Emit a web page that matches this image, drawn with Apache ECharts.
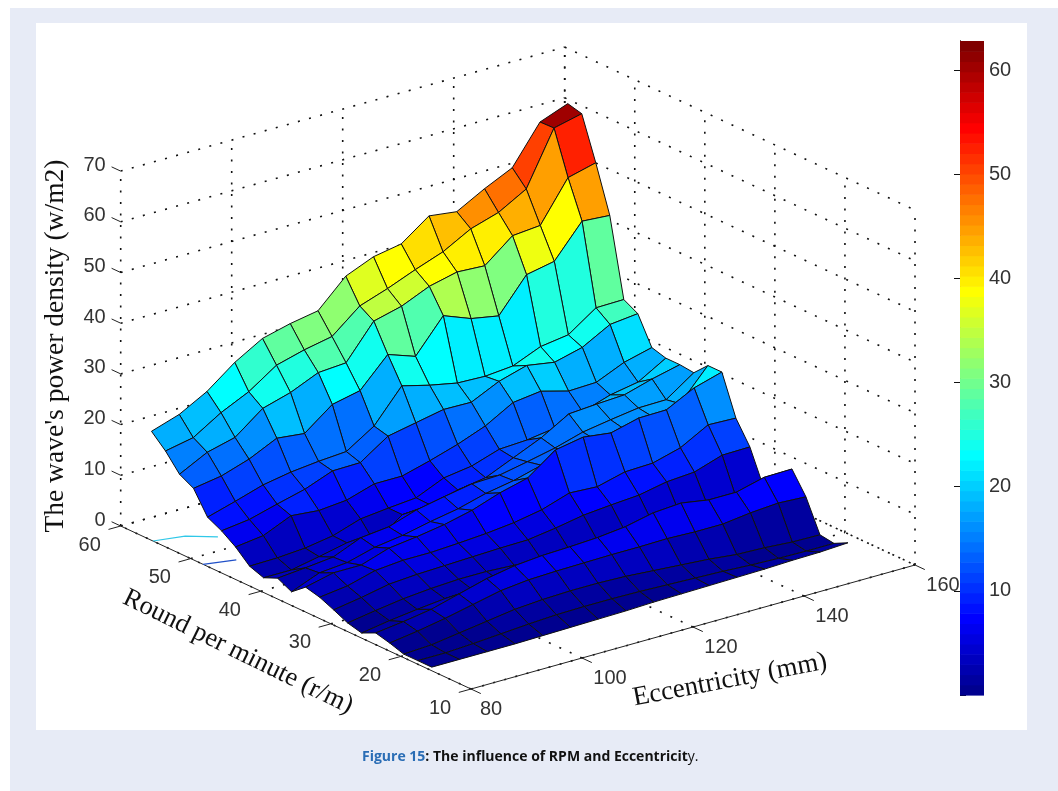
<!DOCTYPE html>
<html><head><meta charset="utf-8">
<style>html,body{margin:0;padding:0;background:#fff}#c{width:1058px;height:791px}</style>
<script src="https://cdn.jsdelivr.net/npm/echarts@6/dist/echarts.min.js"></script>
</head><body><div id="c"></div>
<script>
// ---------- data ----------
const eccentricity = [80.5,85.5,90.5,95.5,100.5,105.5,110.5,115.5,120.5,125.5,130.5,135.5,140.5,145.5,150.5,155.5];
const rpm = [56,54,52,50,48,46,44,42,40,38,36,34,32,30,28,26,24,22,20,18,16];
const power = [
 [21.1,22.9,25.9,30.1,33.3,34.7,35.7,41.0,43.3,44.3,48.3,47.6,50.6,53.2,60.7,62.8],
 [18.5,19.6,23.0,25.6,29.3,30.8,31.9,36.4,38.3,40.5,42.5,45.5,47.2,50.3,60.8,62.1],
 [15.2,18.0,19.4,23.6,25.2,27.6,28.0,34.7,36.1,38.5,39.8,39.5,43.9,44.4,52.3,53.7],
 [13.7,14.6,16.4,19.0,18.4,22.6,23.8,29.4,27.5,34.0,31.9,30.9,37.5,38.6,45.0,44.6],
 [9.3,10.9,12.6,13.6,14.2,14.6,18.1,24.5,23.1,22.0,21.8,22.3,24.6,25.4,29.2,29.3],
 [7.9,8.6,10.1,11.5,13.6,13.7,17.4,18.5,19.6,19.5,22.1,23.7,22.8,24.2,27.2,27.8],
 [6.0,6.7,9.1,8.6,9.1,10.8,10.8,12.3,14.0,16.1,19.2,19.9,18.4,18.6,21.0,22.4],
 [3.5,3.6,4.0,4.9,6.7,7.3,7.8,10.2,11.0,12.8,13.1,13.9,15.6,17.4,18.4,21.6],
 [2.5,2.5,3.6,4.8,3.3,7.3,7.7,9.1,10.0,12.4,14.8,18.0,18.4,18.7,20.3,21.6],
 [3.7,4.2,4.8,7.1,7.7,9.5,10.6,11.6,11.8,12.9,14.1,15.7,16.6,17.4,17.5,21.3],
 [2.3,4.5,5.0,6.5,7.3,8.5,9.5,11.0,12.0,13.5,14.5,15.3,16.0,17.0,18.0,24.0],
 [4.5,5.8,5.8,7.6,8.3,9.2,10.5,12.4,13.8,17.8,18.8,18.1,19.5,19.6,22.4,24.0],
 [3.8,4.5,6.0,6.5,6.5,6.8,7.2,7.8,8.8,10.6,10.3,11.7,11.9,13.4,16.4,16.2],
 [2.6,3.5,4.6,5.0,5.2,5.4,5.6,5.7,6.5,7.5,8.0,8.4,9.5,9.9,11.7,11.8],
 [1.3,2.2,3.0,3.5,3.8,3.8,3.5,3.0,3.4,3.8,4.0,4.0,4.0,4.2,4.6,5.0],
 [0.6,1.5,2.2,2.8,3.0,3.2,3.2,3.2,3.5,3.8,4.0,4.2,4.2,4.4,4.6,5.0],
 [1.9,2.6,3.5,5.0,6.5,7.5,8.0,8.2,8.5,9.1,10.3,10.7,9.8,9.8,11.2,11.3],
 [1.2,2.0,3.0,4.2,5.4,6.0,6.2,6.3,6.4,6.4,6.5,6.3,6.3,7.0,7.4,7.1],
 [0.3,0.6,1.4,2.2,3.0,3.4,3.6,3.6,3.4,3.0,2.6,2.2,1.6,1.4,1.0,0.9],
 [0.3,0.3,0.6,1.0,1.4,1.7,1.8,1.8,1.7,1.5,1.3,1.1,0.8,0.6,0.5,0.5],
 [0.3,0.3,0.3,0.3,0.4,0.5,0.6,0.7,0.9,1.0,1.1,1.2,1.3,1.5,1.6,1.9]
];
const eccTicks = [80,100,120,140,160];
const rpmTicks = [10,20,30,40,50,60];
const zTicks = [0,10,20,30,40,50,60,70];
const cyanContour = [[80,55.4],[84.8,54.6],[88.3,52.7]];
const blueContour = [[80,48.25],[84.8,47.3]];
const zTitle = "The wave's power density (w/m2)";
const rpmTitle = "Round per minute (r/m)";
const eccTitle = "Eccentricity (mm)";
const captionHead = "Figure 15";
const captionTail = ": The influence of RPM and Eccentricit";
const captionEnd = "y.";

// ---------- view of the box ----------
const F = [471,689], dE = [5.55,-1.55], dR = [-7.006,-3.26], dZ = -5.07;
const zMax = 62.8;
function proj(e,r,z){ return [F[0]+dE[0]*(e-80)+dR[0]*(r-10), F[1]+dE[1]*(e-80)+dR[1]*(r-10)+dZ*z]; }
function jet(v){
  let idx = Math.min(63, Math.max(0, Math.floor(v/zMax*64)));
  const f = (idx+1)/64, c = t => Math.round(255*Math.max(0,Math.min(1,1.5-Math.abs(4*f-t))));
  return `rgb(${c(3)},${c(2)},${c(1)})`;
}

// cells painted back to front
const cells = [];
for(let k=0;k<rpm.length-1;k++) for(let i=eccentricity.length-2;i>=0;i--) cells.push([i,k]);

// dotted grid
const gridLines = [];
const eMin=80,eMax=160,rMin=10,rMax=60,zTop=70;
eccTicks.forEach(e=>{ gridLines.push([e,rMax,0,e,rMax,zTop]); gridLines.push([e,rMin,0,e,rMax,0]); });
rpmTicks.forEach(r=>{ gridLines.push([eMax,r,0,eMax,r,zTop]); gridLines.push([eMin,r,0,eMax,r,0]); });
zTicks.forEach(z=>{ gridLines.push([eMin,rMax,z,eMax,rMax,z]); gridLines.push([eMax,rMax,z,eMax,rMin,z]); });

const texts = [];
eccTicks.forEach((e,n)=>{const p=proj(e,rMin,0); texts.push([String(e),p[0]+(n?28:20),p[1]+20,'center']);});
rpmTicks.forEach(r=>{const p=proj(eMin,r,0); texts.push([String(r),p[0]-31,p[1]+19,'center']);});
zTicks.forEach(z=>{const p=proj(eMin,rMax,z); texts.push([String(z),p[0]-15,p[1]-6,'right']);});

const solid = [[eMin,rMin,0,eMin,rMax,0],[eMin,rMin,0,eMax,rMin,0]];
eccTicks.forEach(e=>solid.push([e,rMin,0,e,rMin-1.4,0]));
rpmTicks.forEach(r=>solid.push([eMin,r,0,eMin-2.2,r,0]));
zTicks.forEach(z=>solid.push([eMin,rMax,z,eMin,rMax+1.3,z]));

const chart = echarts.init(document.getElementById('c'),null,{renderer:'canvas'});
function pt(api,p){ return api.coord(p); }
const levels = Array.from({length:64},(_,n)=>n);
chart.setOption({
  animation:false,
  backgroundColor:'#fff',
  tooltip:{show:false},
  graphic:[
    {type:'rect',z:-10,silent:true,shape:{x:10,y:8,width:1048,height:783},style:{fill:'#e7ebf6'}},
    {type:'rect',z:-9,silent:true,shape:{x:36,y:23,width:991,height:707},style:{fill:'#fff'}},
    {type:'text',z:10,x:56,y:346,rotation:Math.PI/2,style:{text:zTitle,font:'27.5px "Liberation Serif"',fill:'#111',align:'center',verticalAlign:'middle'}},
    {type:'text',z:10,x:238,y:652,rotation:-0.455,style:{text:rpmTitle,font:'26.5px "Liberation Serif"',fill:'#111',align:'center',verticalAlign:'middle'}},
    {type:'text',z:10,x:730,y:680,rotation:0.19,style:{text:eccTitle,font:'27px "Liberation Serif"',fill:'#111',align:'center',verticalAlign:'middle'}},
    {type:'text',z:10,x:362,y:757,style:{rich:{a:{font:'bold 14px "Open Sans"',fill:'#2a6db5'},b:{font:'bold 14px "Open Sans"',fill:'#111'},c:{font:'14px "Open Sans"',fill:'#111'}},text:`{a|${captionHead}}{b|${captionTail}}{c|${captionEnd}}`,verticalAlign:'middle'}}
  ],
  grid:[
    {left:0,top:0,width:1058,height:791,show:false},
    {left:960,top:41,width:24,height:654,show:false}
  ],
  xAxis:[
    {gridIndex:0,type:'value',min:0,max:1058,show:false},
    {gridIndex:1,type:'value',min:0,max:1,show:false}
  ],
  yAxis:[
    {gridIndex:0,type:'value',min:0,max:791,inverse:true,show:false},
    {gridIndex:1,type:'value',min:0,max:zMax,interval:10,position:'right',
      axisLine:{show:true,lineStyle:{color:'#111'}},axisTick:{show:true,inside:true,length:6,lineStyle:{color:'#111'}},
      axisLabel:{color:'#333',fontSize:20,fontFamily:'Liberation Sans',margin:5,showMinLabel:false,showMaxLabel:false},splitLine:{show:false}},
    {gridIndex:1,type:'value',min:0,max:zMax,interval:10,position:'left',
      axisLine:{show:true,lineStyle:{color:'#111'}},axisTick:{show:true,inside:true,length:6,lineStyle:{color:'#111'}},
      axisLabel:{show:false},splitLine:{show:false}}
  ],
  series:[
    {type:'custom',name:'grid',xAxisIndex:0,yAxisIndex:0,coordinateSystem:'cartesian2d',clip:false,silent:true,z:1,data:gridLines,
      renderItem:(p,api)=>{const d=gridLines[p.dataIndex],a=pt(api,proj(d[0],d[1],d[2])),b=pt(api,proj(d[3],d[4],d[5]));
        return {type:'line',shape:{x1:a[0],y1:a[1],x2:b[0],y2:b[1]},style:{stroke:'#111',lineWidth:1.6,lineDash:[2,9.5],fill:null}};}},
    {type:'custom',name:'axes',xAxisIndex:0,yAxisIndex:0,clip:false,silent:true,z:2,data:solid,
      renderItem:(p,api)=>{const d=solid[p.dataIndex],a=pt(api,proj(d[0],d[1],d[2])),b=pt(api,proj(d[3],d[4],d[5]));
        return {type:'line',shape:{x1:a[0],y1:a[1],x2:b[0],y2:b[1]},style:{stroke:'#222',lineWidth:1,fill:null}};}},
    {type:'custom',name:'contours',xAxisIndex:0,yAxisIndex:0,clip:false,silent:true,z:3,data:[0,1],
      renderItem:(p,api)=>{const l=p.dataIndex?blueContour:cyanContour;
        return {type:'polyline',shape:{points:l.map(q=>pt(api,proj(q[0],q[1],0)))},style:{stroke:p.dataIndex?'#2050c8':'#30c8e8',lineWidth:1.2,fill:null}};}},
    {type:'custom',name:'surface',xAxisIndex:0,yAxisIndex:0,clip:false,silent:true,z:4,data:cells,
      renderItem:(p,api)=>{const [i,k]=cells[p.dataIndex];
        const P=(a,b)=>pt(api,proj(eccentricity[a],rpm[b],power[b][a]));
        return {type:'polygon',shape:{points:[P(i,k),P(i+1,k),P(i+1,k+1),P(i,k+1)]},
          style:{fill:jet(power[k+1][i]),stroke:'#101010',lineWidth:1}};}},
    {type:'custom',name:'labels',xAxisIndex:0,yAxisIndex:0,clip:false,silent:true,z:5,data:texts,
      renderItem:(p,api)=>{const t=texts[p.dataIndex],c=pt(api,[t[1],t[2]]);
        return {type:'text',style:{text:t[0],x:c[0],y:c[1],align:t[3],verticalAlign:'middle',font:'20px "Liberation Sans"',fill:'#333'}};}},
    {type:'custom',name:'colorbar',xAxisIndex:1,yAxisIndex:1,clip:false,silent:true,z:2,data:levels,
      renderItem:(p,api)=>{const n=levels[p.dataIndex],a=api.coord([0,n/64*zMax]),b=api.coord([1,(n+1)/64*zMax]);
        return {type:'rect',shape:{x:a[0],y:b[1],width:b[0]-a[0],height:a[1]-b[1]+0.6},style:{fill:jet((n+0.5)/64*zMax)}};}}
  ]
});
</script></body></html>
